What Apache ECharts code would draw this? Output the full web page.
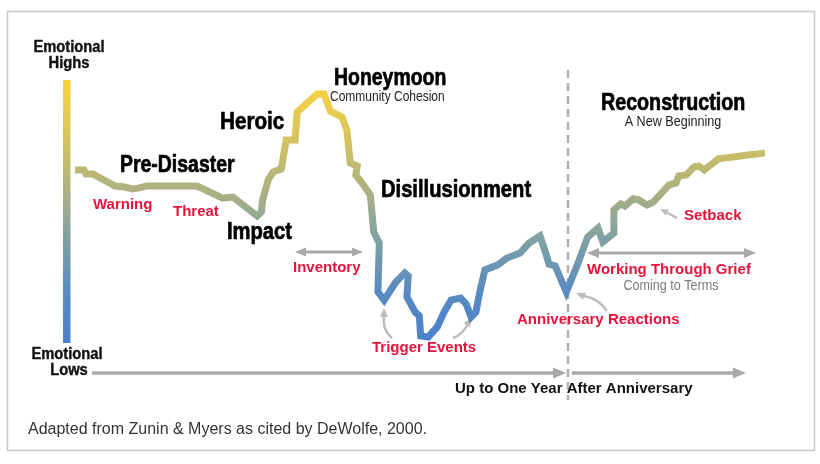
<!DOCTYPE html>
<html><head><meta charset="utf-8">
<script src="https://cdn.jsdelivr.net/npm/echarts@6/dist/echarts.min.js"></script>
<style>html,body{margin:0;padding:0;background:#fff}#c{width:820px;height:464px}</style>
</head><body><div id="c"></div>
<script>
// Time (arbitrary units, 0 = pre-disaster, 100 = end of reconstruction shown)
const time = [0,1.3,1.6,2.6,5.8,7.2,8.3,9.1,10.4,17.7,21.4,22.9,26.4,27.0,27.2,28.0,28.7,29.9,30.6,31.9,32.2,35.1,36.1,37.0,38.7,39.4,39.9,40.9,40.7,41.6,42.8,43.3,44.1,43.9,44.8,46.5,47.8,48.3,48.1,49.3,49.9,50.1,51.2,52.5,53.5,54.5,55.9,56.7,57.4,58.1,58.7,59.4,61.3,62.6,64.5,65.8,67.4,68.3,68.7,69.6,71.2,72.8,74.3,75.8,76.5,78.1,78.1,79.1,79.7,80.9,81.7,82.9,83.8,84.9,86.1,87.1,87.5,88.6,89.7,90.4,91.2,93.2,95.4,97.5,100];
// Emotional level (0 = emotional lows, 100 = emotional highs)
const emotion = [65.8,65.8,64.3,64.3,59.7,59.3,58.6,58.9,59.7,59.7,55.1,55.5,48.3,49.8,54.4,62.0,65.0,66.2,77.2,77.2,87.8,94.7,94.7,88.2,85.9,81.0,68.4,67.3,63.9,60.8,56.3,42.2,38.0,19.4,16.3,23.2,26.6,25.5,17.5,11.8,10.3,2.7,2.3,6.1,11.8,16.3,17.1,14.8,9.9,11.8,19.8,27.8,29.7,32.3,34.2,38.0,40.7,33.5,30.0,29.3,19.4,29.7,40.3,43.7,38.4,41.8,50.6,52.9,52.1,54.8,54.4,52.5,53.6,56.7,60.1,60.8,63.5,63.9,66.9,67.3,65.8,70.0,70.7,71.5,72.2];
const phaseTitles = ['Pre-Disaster','Impact','Heroic','Honeymoon','Disillusionment','Reconstruction'];
const phaseSubtitles = ['Community Cohesion','A New Beginning'];
const eventLabels = ['Warning','Threat','Inventory','Trigger Events','Anniversary Reactions','Setback','Working Through Grief'];
const extraLabels = ['Coming to Terms','Up to One Year After Anniversary','Adapted from Zunin & Myers as cited by DeWolfe, 2000.'];
const axisEnds = ['Emotional','Highs','Emotional','Lows'];

const colorStops = ['#4a80cc','#5a8bc1','#80a2a2','#b0b37e','#d9c65a','#fbd43c'];
const chart = echarts.init(document.getElementById('c'), null, {renderer:'canvas'});
const pts = time.map((t,i)=>[t, emotion[i]]);

const SANS = '"Liberation Sans",Arial,sans-serif';
const RED = '#e3143c';
const GRAY = '#a9a9a9';

function txt(text, x, y, size, weight, fill, align, sx, heavy){
  const st = {text:text, fontSize:size, fontWeight:weight, fontFamily:SANS, fill:fill,
      align:align||'left', verticalAlign:'middle'};
  if (heavy) { st.stroke = fill; st.lineWidth = heavy; }
  return {type:'text', x:x, y:y, scaleX:sx||1, silent:true, z:10, style:st};
}
function head(x1,y1,x2,y2,len,w,color){
  const a = Math.atan2(y2-y1,x2-x1);
  const bx = x2 - len*Math.cos(a), by = y2 - len*Math.sin(a);
  const nx = -Math.sin(a)*w/2, ny = Math.cos(a)*w/2;
  return {type:'polygon', silent:true, shape:{points:[[x2,y2],[bx+nx,by+ny],[bx-nx,by-ny]]}, style:{fill:color}};
}
function seg(x1,y1,x2,y2,color,w){
  return {type:'line', silent:true, shape:{x1:x1,y1:y1,x2:x2,y2:y2}, style:{stroke:color,lineWidth:w}};
}
function curve(x1,y1,cx,cy,x2,y2,color,w){
  return {type:'bezierCurve', silent:true, shape:{x1:x1,y1:y1,cpx1:cx,cpy1:cy,x2:x2,y2:y2}, style:{stroke:color,lineWidth:w,fill:null}};
}

const g = [];
// frame
g.push({type:'rect', silent:true, shape:{x:7.5,y:11.5,width:807,height:439}, style:{fill:null, stroke:'#c8c8c8', lineWidth:1.5}});
// gradient emotional scale bar
const barStops = colorStops.map((c,i)=>({offset:1-i/(colorStops.length-1), color:c}));
barStops.reverse();
g.push({type:'rect', silent:true, shape:{x:63,y:80,width:7.5,height:263},
  style:{fill:new echarts.graphic.LinearGradient(0,0,0,1,barStops)}});
// axis-end labels
g.push(txt(axisEnds[0],69,48,16,'bold','#111','center',0.92,0.4));
g.push(txt(axisEnds[1],69,64,16,'bold','#111','center',0.92,0.4));
g.push(txt(axisEnds[2],67,355,16,'bold','#111','center',0.92,0.4));
g.push(txt(axisEnds[3],69,371,16,'bold','#111','center',0.92,0.4));
// time arrows
g.push(seg(92,373,556,373,GRAY,3.5)); g.push(head(92,373,566,373,13,11,GRAY));
g.push(seg(572,373,735,373,GRAY,3.5)); g.push(head(572,373,746,373,13,11,GRAY));
// dashed anniversary line
g.push({type:'line', silent:true, shape:{x1:568,y1:70,x2:568,y2:400}, style:{stroke:'#b0b0b0', lineWidth:2.5, lineDash:[8,5]}});
// inventory double arrow
g.push(seg(303,252,354,252,GRAY,3)); g.push(head(362,252,295,252,11,9,GRAY)); g.push(head(295,252,363,252,11,9,GRAY));
// working through grief double arrow
g.push(seg(597,253,746,253,GRAY,3)); g.push(head(755,253,587,253,12,10,GRAY)); g.push(head(587,253,756,253,12,10,GRAY));
// trigger event curved arrows
const LG = '#bdbdbd';
g.push(curve(392,338,382,330,384,315,LG,2.5)); g.push(head(384,320,384,308,9,8,LG));
g.push(curve(453,338,462,335,468,324,LG,2.5)); g.push(head(465,327,472,318,9,8,LG));
// anniversary curved arrow
g.push(curve(607,311,598,298,584,296,LG,2.5)); g.push(head(586,297,576,293,9,8,LG));
// setback arrow
g.push(seg(677,218,666,212,LG,2.5)); g.push(head(670,214,660,209,8,7,LG));

// phase titles (condensed heavy look)
const HS = 24, HX = 0.81, HW = 0.7;
g.push(txt(phaseTitles[0],120,165,HS,'bold','#000','left',HX,HW));
g.push(txt(phaseTitles[1],227,232,HS,'bold','#000','left',HX+0.03,HW));
g.push(txt(phaseTitles[2],220,122,HS,'bold','#000','left',HX+0.05,HW));
g.push(txt(phaseTitles[3],334,78,HS,'bold','#000','left',HX,HW));
g.push(txt(phaseTitles[4],381,190,HS,'bold','#000','left',HX+0.03,HW));
g.push(txt(phaseTitles[5],601,103,HS,'bold','#000','left',HX+0.01,HW));
g.push(txt(phaseSubtitles[0],330,97,15,'normal','#222','left',0.8));
g.push(txt(phaseSubtitles[1],673,122,15,'normal','#222','center',0.84));
// event labels (red)
g.push(txt(eventLabels[0],93,205,15,'bold',RED));
g.push(txt(eventLabels[1],173,212,15,'bold',RED));
g.push(txt(eventLabels[2],293,268,15,'bold',RED));
g.push(txt(eventLabels[3],372,348,15,'bold',RED));
g.push(txt(eventLabels[4],517,320,15,'bold',RED));
g.push(txt(eventLabels[5],684,216,15,'bold',RED));
g.push(txt(eventLabels[6],587,270,15,'bold',RED));
g.push(txt(extraLabels[0],671,286,15,'normal','#7a7a7a','center',0.84));
g.push(txt(extraLabels[1],455,389,15,'bold','#111'));
g.push(txt(extraLabels[2],28,430,16,'normal','#333'));

chart.setOption({
  animation:false,
  backgroundColor:'#fff',
  grid:{left:75, top:80, width:690, height:263},
  xAxis:{type:'value', min:0, max:100, show:false},
  yAxis:{type:'value', min:0, max:100, show:false},
  visualMap:{show:false, type:'continuous', dimension:1, min:0, max:100, seriesIndex:0,
    inRange:{color:colorStops}},
  series:[{type:'line', data:pts, showSymbol:false, smooth:false, silent:true, clip:false,
    lineStyle:{width:7, join:'miter', cap:'butt'}}],
  graphic:g
});
</script></body></html>
